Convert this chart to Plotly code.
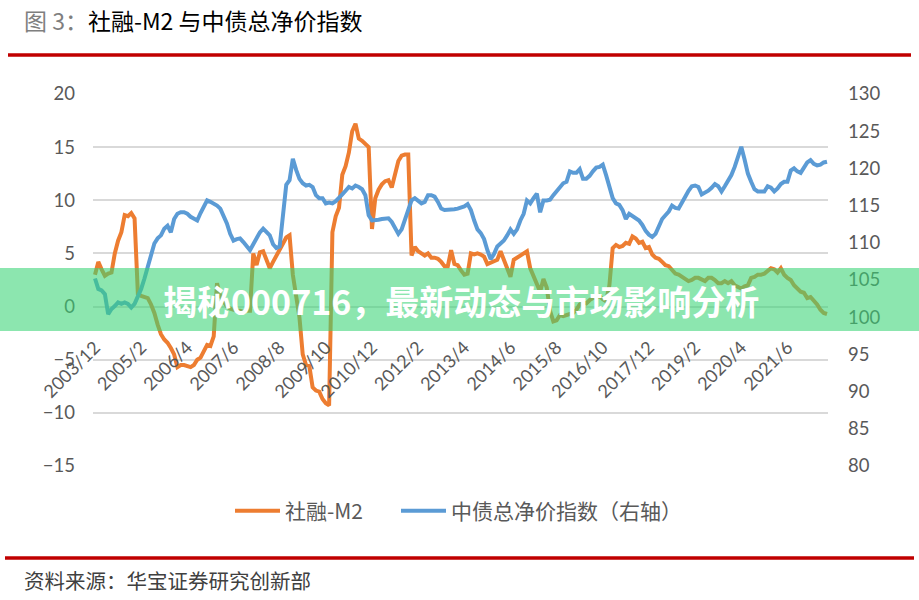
import plotly.graph_objects as go

# ---------------- data ----------------
categories = []
_y, _m = 2003, 12
for _ in range(223):
    categories.append(f"{_y}/{_m}")
    _m += 1
    if _m > 12:
        _m = 1
        _y += 1

tick_labels = ["2003/12", "2005/2", "2006/4", "2007/6", "2008/8", "2009/10", "2010/12",
               "2012/2", "2013/4", "2014/6", "2015/8", "2016/10", "2017/12", "2019/2",
               "2020/4", "2021/6"]

tsf_m2 = [
    3.0, 4.2, 3.5, 2.9, 3.1, 3.2, 5.0, 6.2, 7.0, 8.6, 8.5, 8.8, 8.3, 1.2, 1.0, 0.9,
    0.8, 0.2, -0.6, -1.7, -2.6, -3.1, -3.4, -3.9, -4.5, -5.7, -5.5, -5.5, -5.6, -5.7, -5.5, -5.0,
    -4.8, -4.2, -3.6, -3.7, -2.8, 2.2, 1.0, 0.5, 0.0, -0.2, -0.3, -0.4, -0.4, -0.5, -0.4, -0.4,
    5.0, 3.9, 5.1, 5.2, 4.4, 3.6, 4.2, 4.8, 5.3, 6.0, 6.5, 6.7, 3.0, 1.0, -1.0, -4.5,
    -5.5, -5.6, -7.6, -7.9, -8.0, -8.7, -9.1, -9.3, 7.0, 8.5, 9.3, 12.4, 13.2, 14.5, 16.5, 17.2,
    15.8, 15.6, 15.3, 15.0, 7.3, 10.2, 11.0, 11.5, 11.8, 11.9, 11.2, 12.4, 13.7, 14.2, 14.3, 14.3,
    4.8, 5.6, 5.2, 5.0, 4.8, 5.0, 4.6, 4.6, 4.5, 4.2, 3.8, 3.8, 5.3, 4.0, 3.9, 3.4,
    3.0, 3.1, 5.0, 4.9, 5.0, 4.9, 4.7, 4.0, 4.1, 4.2, 4.4, 5.2, 4.4, 3.8, 2.8, 4.4,
    4.6, 4.9, 5.0, 5.2, 3.6, 2.9, 2.1, 1.4, 2.6, 1.8, -0.4, -1.4, -1.3, -0.8, -0.9, -0.8,
    -0.7, -0.6, -0.3, 0.2, 0.4, 0.3, 0.6, 0.8, 0.8, 1.0, 0.7, 0.5, 2.0, 5.5, 5.8, 5.6,
    5.7, 6.0, 5.9, 6.6, 6.4, 6.0, 6.1, 5.5, 5.6, 4.9, 4.6, 4.5, 4.2, 3.9, 3.8, 3.5,
    3.1, 3.0, 2.8, 2.7, 2.4, 2.5, 2.7, 2.7, 2.6, 2.4, 2.7, 2.7, 2.5, 2.2, 2.2, 2.4,
    2.2, 2.4, 2.0, 1.9, 1.7, 1.9, 2.0, 2.7, 2.8, 3.0, 3.0, 3.1, 3.3, 3.6, 3.5, 3.2,
    3.6, 3.0, 2.7, 2.5, 2.0, 1.7, 1.4, 1.3, 0.8, 0.9, 0.6, 0.2, -0.3, -0.6, -0.7,
]

bond_index = [
    105.2, 103.8, 103.6, 103.1, 100.4, 101.1, 101.5, 102.0, 101.8, 102.0, 101.8, 101.3, 101.8, 102.7, 103.8, 105.2,
    106.7, 108.3, 109.9, 110.6, 111.0, 111.9, 112.3, 111.4, 113.2, 113.9, 114.1, 114.1, 113.9, 113.5, 113.2, 113.0,
    114.0, 115.0, 115.7, 115.5, 115.3, 115.0, 114.6, 113.7, 112.6, 111.2, 110.3, 110.5, 110.6, 110.1, 109.6, 109.0,
    109.8, 110.6, 111.4, 111.9, 111.5, 111.0, 109.8, 109.3, 109.5, 113.5, 117.8, 118.4, 121.3, 119.8, 118.6, 118.0,
    117.7, 117.8, 117.5, 116.4, 116.0, 116.0, 115.3, 115.4, 115.3, 115.6, 116.0, 116.5, 117.0, 117.5, 117.3, 117.7,
    117.5, 117.2, 116.4, 113.7, 113.0, 113.0, 113.1, 113.2, 113.3, 113.3, 112.8, 111.9, 111.2, 111.8, 113.2, 114.6,
    115.7, 116.0, 115.7, 115.3, 115.5, 116.4, 116.4, 116.2, 115.5, 114.6, 114.4, 114.4, 114.4, 114.5, 114.6, 114.7,
    114.9, 115.2, 114.4, 113.0, 111.8, 111.3, 110.5, 109.0, 107.8, 108.5, 109.5, 109.9, 110.3, 111.0, 111.8, 111.2,
    111.8, 113.0, 113.9, 115.7, 115.3, 116.0, 116.6, 114.1, 115.7, 115.7, 115.8, 116.4, 116.9, 117.3, 118.0, 118.2,
    119.6, 119.4, 119.4, 119.9, 118.6, 118.6, 119.0, 119.6, 120.1, 120.2, 120.5, 119.1, 117.7, 116.0, 115.3, 115.1,
    114.4, 113.2, 113.9, 113.6, 113.2, 113.0, 112.4, 111.6, 111.1, 110.8, 111.2, 112.1, 113.2, 113.7, 114.2, 115.0,
    114.7, 114.6, 115.3, 116.2, 117.0, 117.6, 117.7, 117.5, 116.5, 116.7, 117.0, 117.4, 117.9, 117.6, 116.9, 117.6,
    118.3, 119.1, 120.2, 121.6, 122.9, 121.2, 119.3, 118.2, 117.2, 116.9, 116.9, 116.9, 117.6, 117.4, 116.9, 117.3,
    117.9, 118.2, 118.2, 119.7, 120.0, 119.6, 119.4, 120.0, 120.8, 121.1, 120.6, 120.4, 120.5, 120.8, 120.9,
]

series_names = ["社融-M2", "中债总净价指数（右轴）"]
title_prefix = "图 3："
title_text = "社融-M2 与中债总净价指数"
source_text = "资料来源：华宝证券研究创新部"
banner_text = "揭秘000716，最新动态与市场影响分析"

# ---------------- layout helpers ----------------
W, H = 919, 600
L, R, T, B = 93, 828, 94, 466


def px(x):
    return (x - L) / (R - L)


def py(y):
    return (B - y) / (B - T)


CJK = "Noto Sans CJK SC"
NUM = "Lato"
GREY = "#595959"

fig = go.Figure()
fig.add_trace(go.Scatter(x=categories, y=tsf_m2, name=series_names[0], mode="lines",
                         line=dict(color="#ED7D31", width=4), yaxis="y", legend="legend"))
fig.add_trace(go.Scatter(x=categories, y=bond_index, name=series_names[1], mode="lines",
                         line=dict(color="#5B9BD5", width=4), yaxis="y2", legend="legend2"))

leg_common = dict(orientation="h", xanchor="left", y=py(511), yanchor="middle",
                  font=dict(family=CJK, size=21, color=GREY), itemwidth=45,
                  bgcolor="rgba(0,0,0,0)")

fig.update_layout(
    width=W, height=H,
    margin=dict(l=L, r=W - R, t=T, b=H - B, pad=0),
    paper_bgcolor="white", plot_bgcolor="white",
    showlegend=True,
    legend=dict(x=px(230), **leg_common),
    legend2=dict(x=px(396), **leg_common),
    xaxis=dict(type="category", categoryorder="array", categoryarray=categories,
               range=[-0.607, 222.3], tickmode="array", tickvals=tick_labels, ticktext=tick_labels,
               tickangle=-45, anchor="free", position=15 / 35, showgrid=False, showline=False,
               zeroline=False, ticks="", tickfont=dict(family=NUM, size=18, color=GREY),
               ticklabelstandoff=26),
    yaxis=dict(range=[-15, 20], tick0=0, dtick=5, showgrid=True, gridcolor="#D9D9D9", gridwidth=1.5,
               zeroline=False, showline=False, ticks="",
               tickfont=dict(family=NUM, size=18.5, color=GREY), ticklabelstandoff=17),
    yaxis2=dict(range=[80, 130], tick0=80, dtick=5, overlaying="y", side="right", showgrid=False,
                zeroline=False, showline=False, ticks="",
                tickfont=dict(family=NUM, size=18.5, color=GREY), ticklabelstandoff=19),
)

shapes = [
    dict(type="line", xref="paper", yref="paper", x0=px(8), x1=px(911), y0=py(55), y1=py(55),
         line=dict(color="#C00000", width=3.5)),
    dict(type="line", xref="paper", yref="paper", x0=px(5), x1=px(914), y0=py(558), y1=py(558),
         line=dict(color="#C00000", width=3.5)),
    dict(type="rect", xref="paper", yref="paper", x0=px(0), x1=px(919), y0=py(331), y1=py(268),
         fillcolor="rgba(57,212,117,0.58)", line=dict(width=0), layer="above"),
]
fig.update_layout(shapes=shapes)

annotations = [
    dict(xref="paper", yref="paper", x=px(22), y=py(20), xanchor="left", yanchor="middle",
         text=f'<span style="color:#7F7F7F">{title_prefix}</span>{title_text}', showarrow=False,
         font=dict(family=CJK, size=23, color="#000000")),
    dict(xref="paper", yref="paper", x=px(22), y=py(580), xanchor="left", yanchor="middle",
         text=source_text, showarrow=False, font=dict(family=CJK, size=20.5, color="#404040")),
    dict(xref="paper", yref="paper", x=px(461), y=py(300), xanchor="center", yanchor="middle",
         text=banner_text, showarrow=False,
         font=dict(family=CJK, size=34, color="white", weight="bold")),
]
fig.update_layout(annotations=annotations)

fig.write_html("out.html", config={"displayModeBar": False},
               post_script="document.body.style.margin='0';document.body.style.padding='0';"
                           "document.body.style.overflow='hidden';")
